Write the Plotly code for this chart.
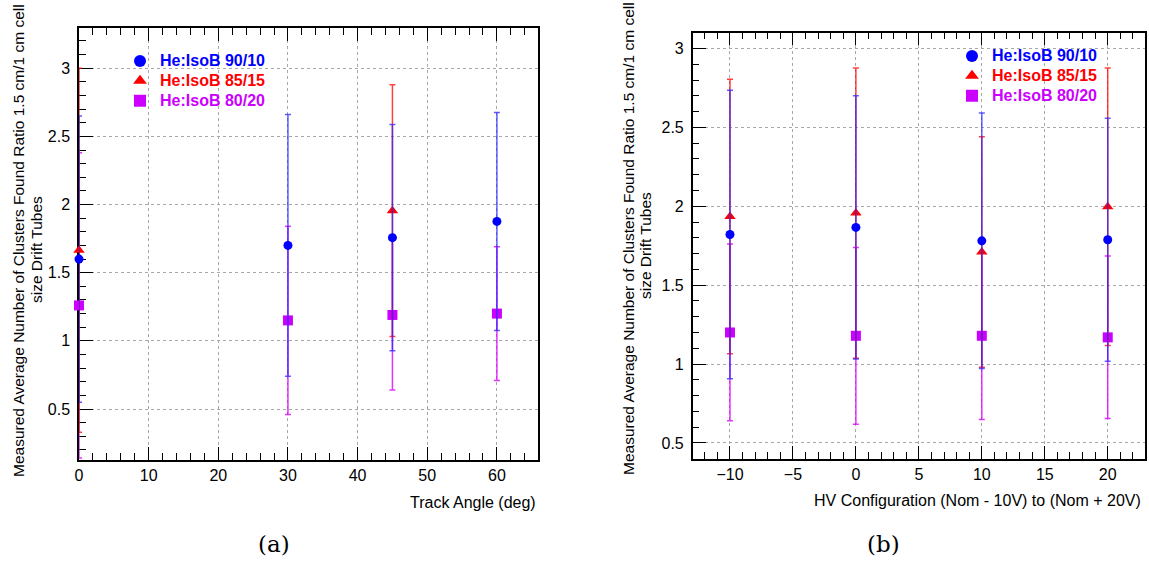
import plotly.graph_objects as go

# ---------------- data ----------------
series_names = ["He:IsoB 90/10", "He:IsoB 85/15", "He:IsoB 80/20"]
series_colors = ["#0000ff", "#ff0000", "#cc00ff"]
bar_colors = ["rgba(40,40,255,0.75)", "rgba(255,0,0,0.75)", "rgba(220,0,255,0.8)"]
symbols = ["circle", "triangle-up", "square"]

# panel (a): track angle
angle_9010 = [0, 30, 45, 60]
val_a_9010 = [1.60, 1.70, 1.757, 1.876]
err_a_9010 = [1.05, 0.96, 0.83, 0.80]

angle_8515 = [0, 45]
val_a_8515 = [1.665, 1.955]
err_a_8515 = [1.335, 0.923]

angle_8020 = [0, 30, 45, 60]
val_a_8020 = [1.26, 1.15, 1.19, 1.20]
err_a_8020 = [1.12, 0.69, 0.55, 0.49]

# panel (b): HV configuration
hv = [-10, 0, 10, 20]
val_b_9010 = [1.821, 1.866, 1.781, 1.788]
err_b_9010 = [0.915, 0.834, 0.81, 0.77]
val_b_8515 = [1.935, 1.957, 1.71, 1.997]
err_b_8515 = [0.87, 0.92, 0.73, 0.88]
val_b_8020 = [1.20, 1.179, 1.179, 1.169]
err_b_8020 = [0.56, 0.56, 0.53, 0.515]

y_title_line1 = "Measured Average Number of Clusters Found Ratio 1.5 cm/1 cm cell"
y_title_line2 = "size Drift Tubes"
x_title_a = "Track Angle (deg)"
x_title_b = "HV Configuration (Nom - 10V) to (Nom + 20V)"

W, H = 1149, 561
FONT = "Liberation Sans, Arial, sans-serif"

panel_a = [(angle_9010, val_a_9010, err_a_9010),
           (angle_8515, val_a_8515, err_a_8515),
           (angle_8020, val_a_8020, err_a_8020)]
panel_b = [(hv, val_b_9010, err_b_9010),
           (hv, val_b_8515, err_b_8515),
           (hv, val_b_8020, err_b_8020)]

marker_sizes = [9, 10, 10]

fig = go.Figure()
# draw order: magenta, red, blue
order = [2, 1, 0]
for panel, xa, ya, lg in [(panel_a, "x", "y", "legend"), (panel_b, "x2", "y2", "legend2")]:
    for i in order:
        xs, ys, es = panel[i]
        fig.add_trace(go.Scatter(
            x=xs, y=ys, mode="markers", xaxis=xa, yaxis=ya,
            name="<span style='color:%s;font-size:16px'><b>%s</b></span>" % (series_colors[i], series_names[i]),
            legend=lg, legendrank=i + 1,
            marker=dict(symbol=symbols[i], size=marker_sizes[i], color=series_colors[i]),
            error_y=dict(type="data", array=es, symmetric=True,
                         color=bar_colors[i], thickness=1.5, width=3),
            cliponaxis=False, showlegend=True,
        ))

def xaxis_style(rng, dtick, minor_dtick, domain, anchor):
    return dict(range=rng, domain=domain, anchor=anchor, dtick=dtick, tick0=0,
                automargin=False, layer="below traces",
                showline=True, linecolor="black", linewidth=1.5, mirror="ticks",
                ticks="inside", ticklen=13, tickwidth=1.2, tickcolor="black",
                showgrid=True, gridcolor="#a8a8a8", griddash="dot", gridwidth=1,
                zeroline=False, tickfont=dict(family=FONT, size=16, color="black"),
                ticklabelstandoff=0,
                minor=dict(dtick=minor_dtick, ticks="inside", ticklen=7,
                           tickcolor="black", tickwidth=1, showgrid=False))

def yaxis_style(rng, domain, anchor):
    return dict(range=rng, domain=domain, anchor=anchor, dtick=0.5, tick0=0,
                automargin=False, layer="below traces",
                showline=True, linecolor="black", linewidth=1.5, mirror=True,
                ticks="inside", ticklen=14, tickwidth=1.2, tickcolor="black",
                showgrid=True, gridcolor="#a8a8a8", griddash="dot", gridwidth=1,
                zeroline=False, tickfont=dict(family=FONT, size=16, color="black"),
                ticklabelstandoff=4,
                minor=dict(dtick=0.1, ticks="inside", ticklen=7,
                           tickcolor="black", tickwidth=1, showgrid=False))

def px_x(p):
    return p / W

def px_y(p):
    return 1 - p / H

fig.update_layout(
    width=W, height=H, margin=dict(l=0, r=0, t=0, b=0, autoexpand=False),
    paper_bgcolor="white", plot_bgcolor="white",
    xaxis=xaxis_style([0, 65.9], 10, 2, [px_x(79), px_x(538)], "y"),
    yaxis=yaxis_style([0.126, 3.295], [px_y(460), px_y(28)], "x"),
    xaxis2=xaxis_style([-12.96, 22.96], 5, 1, [px_x(692.7), px_x(1145)], "y2"),
    yaxis2=yaxis_style([0.40, 3.10], [px_y(458.7), px_y(32.7)], "x2"),
    legend=dict(x=px_x(120), y=px_y(46), xanchor="left", yanchor="top",
                bgcolor="rgba(0,0,0,0)", font=dict(family=FONT, size=13),
                tracegroupgap=0, itemsizing="constant"),
    legend2=dict(x=px_x(952), y=px_y(41), xanchor="left", yanchor="top",
                 bgcolor="rgba(0,0,0,0)", font=dict(family=FONT, size=13),
                 tracegroupgap=0, itemsizing="constant"),
)

TF = dict(family=FONT, size=15.5, color="black")
ann = []
for xc, yc, txt in [(18, 241, y_title_line1), (37, 250, y_title_line2),
                    (628, 239, y_title_line1), (645, 246, y_title_line2)]:
    ann.append(dict(x=px_x(xc), y=px_y(yc), xref="paper", yref="paper",
                    text=txt, textangle=-90, xanchor="center", yanchor="middle",
                    showarrow=False, font=TF))
ann.append(dict(x=px_x(538), y=px_y(502), xref="paper", yref="paper",
                text=x_title_a, xanchor="right", yanchor="middle",
                showarrow=False, font=dict(family=FONT, size=16, color="black")))
ann.append(dict(x=px_x(1143), y=px_y(500), xref="paper", yref="paper",
                text=x_title_b, xanchor="right", yanchor="middle",
                showarrow=False, font=dict(family=FONT, size=16, color="black")))
ann.append(dict(x=px_x(274), y=px_y(544), xref="paper", yref="paper",
                text="(a)", xanchor="center", yanchor="middle",
                showarrow=False, font=dict(family="DejaVu Serif, serif", size=23, color="black")))
ann.append(dict(x=px_x(883), y=px_y(544), xref="paper", yref="paper",
                text="(b)", xanchor="center", yanchor="middle",
                showarrow=False, font=dict(family="DejaVu Serif, serif", size=23, color="black")))
fig.update_layout(annotations=ann)

fig.write_html("out.html", config={"displayModeBar": False},
               post_script="document.body.style.margin='0px';document.body.style.overflow='hidden';")
